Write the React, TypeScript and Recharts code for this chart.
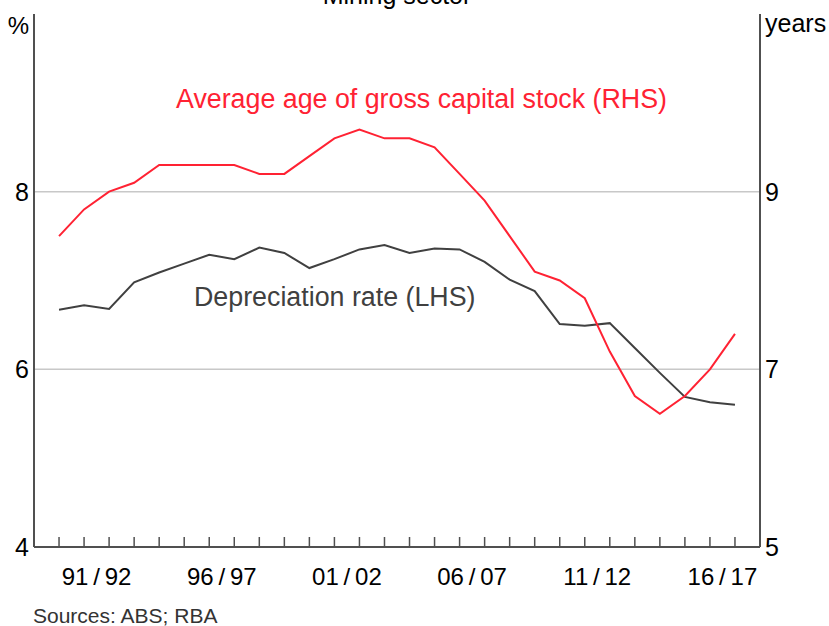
import { LineChart, Line, XAxis, YAxis, ReferenceLine } from 'recharts'

// financial year ending (89/90 -> 1990 ... 16/17 -> 2017)
const FY_END = [
  1990, 1991, 1992, 1993, 1994, 1995, 1996, 1997, 1998, 1999,
  2000, 2001, 2002, 2003, 2004, 2005, 2006, 2007, 2008, 2009,
  2010, 2011, 2012, 2013, 2014, 2015, 2016, 2017,
]
// % (LHS)
const DEPRECIATION_RATE = [
  6.67, 6.72, 6.68, 6.98, 7.09, 7.19, 7.29, 7.24, 7.37, 7.31,
  7.14, 7.24, 7.35, 7.4, 7.31, 7.36, 7.35, 7.21, 7.01, 6.88,
  6.51, 6.49, 6.52, 6.24, 5.96, 5.69, 5.63, 5.6,
]
// years (RHS)
const AVERAGE_AGE = [
  8.5, 8.8, 9.0, 9.1, 9.3, 9.3, 9.3, 9.3, 9.2, 9.2,
  9.4, 9.6, 9.7, 9.6, 9.6, 9.5, 9.2, 8.9, 8.5, 8.1,
  8.0, 7.8, 7.2, 6.7, 6.5, 6.7, 7.0, 7.4,
]
const X_LABELS = ['91/92', '96/97', '01/02', '06/07', '11/12', '16/17']
const LEFT_TICKS = [4, 6, 8]
const RIGHT_TICKS = [5, 7, 9]
const GRID_VALUES = [6, 8]

const W = 829
const H = 626
const FONT = '"Liberation Sans", Arial, sans-serif'
const RED = '#ff2233'
const DARK = '#404040'
const FRAME = '#505050'

const data = FY_END.map((year, i) => ({
  year,
  dep: DEPRECIATION_RATE[i],
  age: AVERAGE_AGE[i],
}))

// label sits in the middle of its financial year
const labelPos = new Map<number, string>()
X_LABELS.forEach((l) => {
  const yy = Number(l.split('/')[1])
  const end = yy > 50 ? 1900 + yy : 2000 + yy
  labelPos.set(end - 0.5, l)
})
const xTicks = [...FY_END, ...labelPos.keys()].sort((a, b) => a - b)

const TICK_STYLE = { fontSize: 25, fill: '#000', fontFamily: FONT }
const AXIS_LINE = { stroke: FRAME, strokeWidth: 2 }

function YearTick(props: any) {
  const { x, y, payload } = props
  const v = payload.value as number
  if (Number.isInteger(v)) {
    return <line x1={x} x2={x} y1={y} y2={y - 10} stroke={FRAME} strokeWidth={1.5} />
  }
  const label = labelPos.get(v) ?? ''
  return (
    <text x={x} y={y + 38} textAnchor="middle" fontSize={24} fontFamily={FONT} fill="#000">
      {label.replace('/', '\u2009/\u2009')}
    </text>
  )
}

export default function App() {
  return (
    <div style={{ position: 'relative', width: W, height: H, background: '#fff' }}>
      <style>{'body{margin:0}'}</style>
      <LineChart width={W} height={H} data={data} margin={{ top: 14, right: 0, bottom: 0, left: 0 }}>
        <XAxis
          xAxisId="x"
          dataKey="year"
          type="number"
          domain={[1989, 2018]}
          ticks={xTicks}
          interval={0}
          height={79}
          tickSize={0}
          tickMargin={0}
          tickLine={false}
          tick={(p: any) => <YearTick {...p} />}
          axisLine={AXIS_LINE}
        />
        <XAxis
          xAxisId="top"
          orientation="top"
          type="number"
          domain={[1989, 2018]}
          height={0}
          tick={false}
          tickLine={false}
          axisLine={AXIS_LINE}
        />
        <YAxis
          yAxisId="left"
          domain={[4, 10]}
          ticks={LEFT_TICKS}
          interval={0}
          width={34}
          tickSize={0}
          tickMargin={5}
          tickLine={false}
          tick={TICK_STYLE}
          axisLine={AXIS_LINE}
        />
        <YAxis
          yAxisId="right"
          orientation="right"
          domain={[5, 11]}
          ticks={RIGHT_TICKS}
          interval={0}
          width={69}
          tickSize={0}
          tickMargin={5}
          tickLine={false}
          tick={TICK_STYLE}
          axisLine={AXIS_LINE}
        />
        {GRID_VALUES.map((v) => (
          <ReferenceLine key={v} xAxisId="x" yAxisId="left" y={v} stroke="#c8c8c8" strokeWidth={1.5} />
        ))}
        <Line
          xAxisId="x"
          yAxisId="left"
          dataKey="dep"
          stroke={DARK}
          strokeWidth={2}
          dot={false}
          type="linear"
          isAnimationActive={false}
        />
        <Line
          xAxisId="x"
          yAxisId="right"
          dataKey="age"
          stroke={RED}
          strokeWidth={2}
          dot={false}
          type="linear"
          isAnimationActive={false}
        />
      </LineChart>
      <svg
        width={W}
        height={H}
        style={{ position: 'absolute', left: 0, top: 0, pointerEvents: 'none' }}
        fontFamily={FONT}
      >
        <text x={397} y={4} textAnchor="middle" fontSize={25} fill="#000">
          Mining sector
        </text>
        <text x={29} y={34} textAnchor="end" fontSize={24} fill="#000">
          %
        </text>
        <text x={765} y={32} fontSize={25} fill="#000">
          years
        </text>
        <text x={176} y={108} fontSize={26.8} fill={RED}>
          Average age of gross capital stock (RHS)
        </text>
        <text x={194} y={306} fontSize={26.8} fill={DARK}>
          Depreciation rate (LHS)
        </text>
        <text x={33} y={623} fontSize={21} fill="#333">
          Sources: ABS; RBA
        </text>
      </svg>
    </div>
  )
}
